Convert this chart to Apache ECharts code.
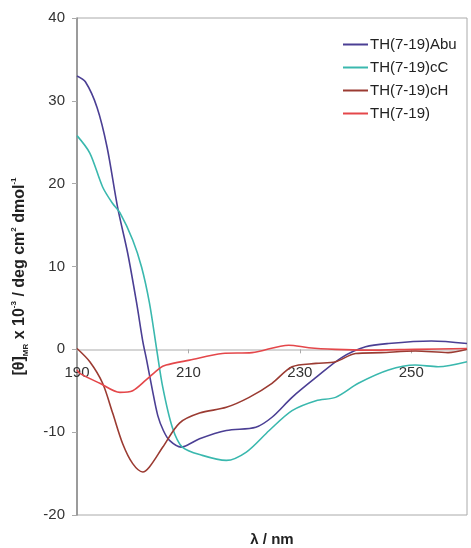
<!DOCTYPE html>
<html>
<head>
<meta charset="utf-8">
<script src="https://cdn.jsdelivr.net/npm/echarts@6/dist/echarts.min.js"></script>
<style>
  html, body { margin: 0; padding: 0; background: #fff; }
  #chart { width: 471px; height: 548px; }
</style>
</head>
<body>
<div id="chart"></div>
<script>
// wavelength (nm) / ellipticity pairs
const abuX = [190, 191.5, 193.6, 195.4, 197.3, 199.1, 200.7, 201.8, 202.5, 203.5, 204.5, 205.5, 206.6, 208.7, 210, 212, 216.8, 222.1, 225, 228.6, 232.9, 237.5, 241.8, 245.9, 253.6, 260];
const abuY = [33, 32.3, 29.2, 24.4, 17.1, 11.6, 5.6, 1, -1.3, -4.8, -8, -9.8, -11, -11.8, -11.5, -10.8, -9.8, -9.4, -8.2, -5.8, -3.4, -1.0, 0.3, 0.7, 1.0, 0.7];

const ccX = [190, 192.3, 194.6, 196.4, 197.7, 200, 201.6, 203, 204.3, 205.4, 207.1, 208.9, 212.5, 216.8, 220.4, 224.5, 228.6, 232.9, 236.4, 240.5, 245.9, 250.7, 254.8, 260];
const ccY = [25.8, 23.7, 19.6, 17.6, 16.5, 13.2, 9.9, 5.6, 0, -4.6, -9.4, -11.8, -12.8, -13.4, -12.4, -9.8, -7.4, -6.2, -5.8, -4.1, -2.5, -1.9, -2.1, -1.5];

const chX = [190, 192.3, 194.6, 196.4, 198.2, 200, 201.8, 203, 205.4, 208.4, 212, 216.8, 220.9, 225, 228.6, 232.9, 236.4, 240, 244.6, 250.7, 256.6, 260];
const chY = [0.1, -1.5, -4.1, -7.7, -11.4, -13.8, -14.8, -14.2, -11.8, -8.9, -7.7, -7.0, -5.8, -4.1, -2.1, -1.7, -1.5, -0.5, -0.4, -0.2, -0.4, 0];

const thX = [190, 190.5, 194.1, 197.7, 200, 202.4, 204.8, 206, 210.2, 216.1, 221.4, 228, 231.6, 236.4, 241.8, 250.7, 260];
const thY = [-2.5, -2.9, -4.1, -5.2, -5.0, -3.7, -2.3, -1.9, -1.3, -0.5, -0.4, 0.5, 0.2, 0, -0.1, 0, 0.1];

const seriesNames = ["TH(7-19)Abu", "TH(7-19)cC", "TH(7-19)cH", "TH(7-19)"];
const seriesColors = ["#4b3f94", "#3ab8ae", "#9b3b32", "#e4474a"];

const pairs = (xs, ys) => xs.map((x, i) => [x, ys[i]]);
const allData = [pairs(abuX, abuY), pairs(ccX, ccY), pairs(chX, chY), pairs(thX, thY)];

const chart = echarts.init(document.getElementById("chart"));
const font = "Liberation Sans, Arial, sans-serif";

// grid geometry: the x axis is drawn on the zero line
const gridTop = 18, gridBottom = 33, chartH = 548;
const plotH = chartH - gridTop - gridBottom;
const zeroShift = plotH * 20 / 60; // distance from bottom edge (-20) to 0

const option = {
  animation: false,
  color: seriesColors,
  textStyle: { fontFamily: font },
  grid: {
    left: 77,
    right: 4,
    top: gridTop,
    bottom: gridBottom,
    outerBoundsMode: "none",
    containLabel: false,
    show: true,
    borderColor: "#aaa",
    borderWidth: 1
  },
  legend: {
    orient: "vertical",
    left: 338,
    top: 32,
    itemWidth: 25,
    itemHeight: 2,
    itemGap: 8,
    icon: "rect",
    textStyle: { fontSize: 15, color: "#222", fontFamily: font, padding: [0, 0, 0, -3] },
    data: seriesNames
  },
  xAxis: {
    type: "value",
    min: 190,
    max: 260,
    interval: 20,
    offset: -zeroShift,
    name: "λ / nm",
    nameLocation: "middle",
    nameGap: 183,
    nameTextStyle: { fontSize: 15, fontWeight: "bold", color: "#222" },
    axisLine: { onZero: false, lineStyle: { color: "#c8c8c8", width: 1.5 } },
    axisTick: { length: 4, lineStyle: { color: "#aaa" } },
    axisLabel: { fontSize: 15, color: "#333", margin: 16, showMaxLabel: false },
    splitLine: { show: false }
  },
  yAxis: {
    type: "value",
    min: -20,
    max: 40,
    interval: 10,
    name: "{b|[θ]}{sub|MR}{b| x 10}{sup|-3}{b| / deg cm}{sup|2}{b| dmol}{sup|-1}{sp|}",
    nameLocation: "middle",
    nameGap: 47,
    nameTextStyle: {
      rich: {
        b: { fontSize: 16, fontWeight: "bold", color: "#222", fontFamily: font, lineHeight: 20 },
        sub: { fontSize: 8, fontWeight: "bold", color: "#222", fontFamily: font, verticalAlign: "bottom", lineHeight: 20, padding: [6, 0, 0, 0] },
        sup: { fontSize: 8, fontWeight: "bold", color: "#222", fontFamily: font, verticalAlign: "top", lineHeight: 20, padding: [0, 0, 6, 0] },
        sp: { width: 20, lineHeight: 20 }
      }
    },
    axisLine: { show: true, onZero: false, lineStyle: { color: "#888", width: 1.5 } },
    axisTick: { show: true, length: 5, lineStyle: { color: "#aaa" } },
    axisLabel: { fontSize: 15, color: "#333", margin: 12 },
    splitLine: { show: false }
  },
  series: allData.map((d, i) => ({
    name: seriesNames[i],
    type: "line",
    smooth: 0.3,
    showSymbol: false,
    lineStyle: { width: 1.6, color: seriesColors[i] },
    data: d
  }))
};

chart.setOption(option);
</script>
</body>
</html>
